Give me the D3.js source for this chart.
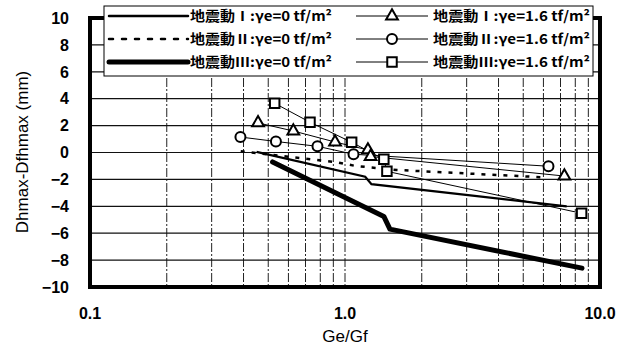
<!DOCTYPE html>
<html>
<head>
<meta charset="utf-8">
<script src="https://cdn.jsdelivr.net/npm/d3@7"></script>
<style>
  body { margin: 0; background: #fff; }
  svg { display: block; }
</style>
</head>
<body>
<svg id="chart" width="631" height="351"></svg>
<script>
const X_TICKS = [0.1, 1, 10];
const X_TICK_LABELS = ['0.1', '1.0', '10.0'];
const Y_TICKS = [10, 8, 6, 4, 2, 0, -2, -4, -6, -8, -10];
const X_GRID = [0.2, 0.3, 0.4, 0.5, 0.6, 0.7, 0.8, 0.9, 1, 2, 3, 4, 5, 6, 7, 8, 9];
const Y_GRID = [8, 6, 4, 2, 0, -2, -4, -6, -8];

// γe = 0 curves
const WAVE1_G0 = [[0.45, 0.05], [1.2, -1.8], [1.27, -2.35], [7.4, -4.0]];
const WAVE2_G0 = [[0.39, 0.1], [0.62, -0.35], [0.91, -0.7], [1.1, -1.0], [1.6, -1.3], [6.1, -1.85]];
const WAVE3_G0 = [[0.52, -0.7], [1.42, -4.75], [1.5, -5.7], [8.5, -8.6]];

// γe = 1.6 points
const WAVE1_G16 = [[0.456, 2.2], [0.627, 1.6], [0.914, 0.78], [1.23, 0.19], [1.26, -0.3], [7.25, -1.75]];
const WAVE2_G16 = [[0.389, 1.15], [0.536, 0.82], [0.78, 0.46], [1.08, -0.13], [6.28, -1.02]];
const WAVE3_G16 = [[0.53, 3.66], [0.729, 2.25], [1.062, 0.76], [1.42, -0.5], [1.46, -1.4], [8.47, -4.52]];

const LEGEND_LEFT = ['地震動Ⅰ:γe=0 tf/m²', '地震動Ⅱ:γe=0 tf/m²', '地震動Ⅲ:γe=0 tf/m²'];
const LEGEND_RIGHT = ['地震動Ⅰ:γe=1.6 tf/m²', '地震動Ⅱ:γe=1.6 tf/m²', '地震動Ⅲ:γe=1.6 tf/m²'];

function drawChart() {
  const svg = d3.select('#chart');
  const pLeft = 90, pRight = 600, pTop = 18, pBottom = 287;

  const x = d3.scaleLog().domain([0.1, 10]).range([pLeft, pRight]);
  const y = d3.scaleLinear().domain([-10, 10]).range([pBottom, pTop]);

  const line = d3.line().x(d => x(d[0])).y(d => y(d[1]));

  // grid
  svg.append('g').selectAll('line')
    .data(X_GRID)
    .enter()
    .append('line')
    .attr('x1', d => x(d)).attr('x2', d => x(d))
    .attr('y1', pTop).attr('y2', pBottom)
    .attr('stroke', '#222')
    .attr('stroke-width', 1)
    .attr('stroke-dasharray', '9,2,2,2');

  svg.append('g').selectAll('line')
    .data(Y_GRID)
    .enter()
    .append('line')
    .attr('x1', pLeft).attr('x2', pRight)
    .attr('y1', d => y(d)).attr('y2', d => y(d))
    .attr('stroke', '#111')
    .attr('stroke-width', 1.2);

  // γe = 0 curves
  svg.append('path').datum(WAVE1_G0)
    .attr('d', line).attr('fill', 'none').attr('stroke', '#000').attr('stroke-width', 2.2);
  svg.append('path').datum(WAVE2_G0)
    .attr('d', line).attr('fill', 'none').attr('stroke', '#000').attr('stroke-width', 2.5)
    .attr('stroke-dasharray', '4,7');
  svg.append('path').datum(WAVE3_G0)
    .attr('d', line).attr('fill', 'none').attr('stroke', '#000').attr('stroke-width', 5)
    .attr('stroke-linecap', 'round').attr('stroke-linejoin', 'round');

  // γe = 1.6 lines
  [WAVE1_G16, WAVE2_G16, WAVE3_G16].forEach(series => {
    svg.append('path').datum(series)
      .attr('d', line).attr('fill', 'none').attr('stroke', '#000').attr('stroke-width', 1);
  });

  const triangle = d3.symbol().type(d3.symbolTriangle).size(60);
  const square = d3.symbol().type(d3.symbolSquare).size(90);

  function drawMarkers(data, kind) {
    const g = svg.append('g');
    if (kind === 'circle') {
      g.selectAll('circle').data(data).enter().append('circle')
        .attr('cx', d => x(d[0])).attr('cy', d => y(d[1])).attr('r', 5)
        .attr('fill', '#fff').attr('stroke', '#000').attr('stroke-width', 2);
    } else {
      g.selectAll('path').data(data).enter().append('path')
        .attr('d', kind === 'triangle' ? triangle : square)
        .attr('transform', d => `translate(${x(d[0])},${y(d[1])})`)
        .attr('fill', '#fff').attr('stroke', '#000').attr('stroke-width', 2);
    }
  }
  drawMarkers(WAVE1_G16, 'triangle');
  drawMarkers(WAVE2_G16, 'circle');
  drawMarkers(WAVE3_G16, 'square');

  // frame
  svg.append('rect')
    .attr('x', pLeft).attr('y', pTop)
    .attr('width', pRight - pLeft).attr('height', pBottom - pTop)
    .attr('fill', 'none').attr('stroke', '#000').attr('stroke-width', 4);

  // axes labels
  const tickFont = "'Liberation Sans', Arial, sans-serif";
  svg.append('g').selectAll('text')
    .data(Y_TICKS).enter().append('text')
    .attr('x', 69).attr('y', d => y(d)).attr('dy', '0.36em')
    .attr('text-anchor', 'end')
    .attr('font-family', tickFont).attr('font-size', 16).attr('font-weight', 700)
    .text(d => (d < 0 ? '\u2212' + Math.abs(d) : d));

  svg.append('g').selectAll('text')
    .data(X_TICKS).enter().append('text')
    .attr('x', d => x(d)).attr('y', 319)
    .attr('text-anchor', 'middle')
    .attr('font-family', tickFont).attr('font-size', 16).attr('font-weight', 700)
    .text((d, i) => X_TICK_LABELS[i]);

  svg.append('text')
    .attr('x', 345).attr('y', 342)
    .attr('text-anchor', 'middle')
    .attr('font-family', tickFont).attr('font-size', 17)
    .text('Ge/Gf');

  svg.append('text')
    .attr('transform', 'translate(28,152) rotate(-90)')
    .attr('text-anchor', 'middle')
    .attr('font-family', tickFont).attr('font-size', 17)
    .text('Dhmax-Dfhmax (mm)');

  // legend
  const legend = svg.append('g');
  legend.append('rect')
    .attr('x', 104).attr('y', 6).attr('width', 489).attr('height', 70)
    .attr('fill', '#fff').attr('stroke', '#000').attr('stroke-width', 1);

  const rowY = [16, 39, 62];
  const jpFont = "'Noto Sans CJK JP', sans-serif";
  const leftStyles = [
    { w: 2.5, dash: null },
    { w: 2.5, dash: '4,9' },
    { w: 5, dash: null }
  ];
  leftStyles.forEach((s, i) => {
    legend.append('line')
      .attr('x1', 109).attr('x2', 188).attr('y1', rowY[i]).attr('y2', rowY[i])
      .attr('stroke', '#000').attr('stroke-width', s.w)
      .attr('stroke-linecap', 'round')
      .attr('stroke-dasharray', s.dash);
    legend.append('text')
      .attr('x', 190).attr('y', rowY[i]).attr('dy', '0.36em')
      .attr('font-family', jpFont).attr('font-weight', 700).attr('font-size', 13.5)
      .attr('textLength', 142).attr('lengthAdjust', 'spacingAndGlyphs')
      .text(LEGEND_LEFT[i]);
  });

  ['triangle', 'circle', 'square'].forEach((kind, i) => {
    legend.append('line')
      .attr('x1', 356).attr('x2', 428).attr('y1', rowY[i]).attr('y2', rowY[i])
      .attr('stroke', '#000').attr('stroke-width', 1);
    if (kind === 'circle') {
      legend.append('circle').attr('cx', 392).attr('cy', rowY[i]).attr('r', 5)
        .attr('fill', '#fff').attr('stroke', '#000').attr('stroke-width', 2);
    } else {
      legend.append('path')
        .attr('d', kind === 'triangle' ? triangle() : square())
        .attr('transform', `translate(392,${rowY[i]})`)
        .attr('fill', '#fff').attr('stroke', '#000').attr('stroke-width', 2);
    }
    legend.append('text')
      .attr('x', 433).attr('y', rowY[i]).attr('dy', '0.36em')
      .attr('font-family', jpFont).attr('font-weight', 700).attr('font-size', 13.5)
      .attr('textLength', 157).attr('lengthAdjust', 'spacingAndGlyphs')
      .text(LEGEND_RIGHT[i]);
  });
}

window.addEventListener('DOMContentLoaded', drawChart);
</script>
</body>
</html>
